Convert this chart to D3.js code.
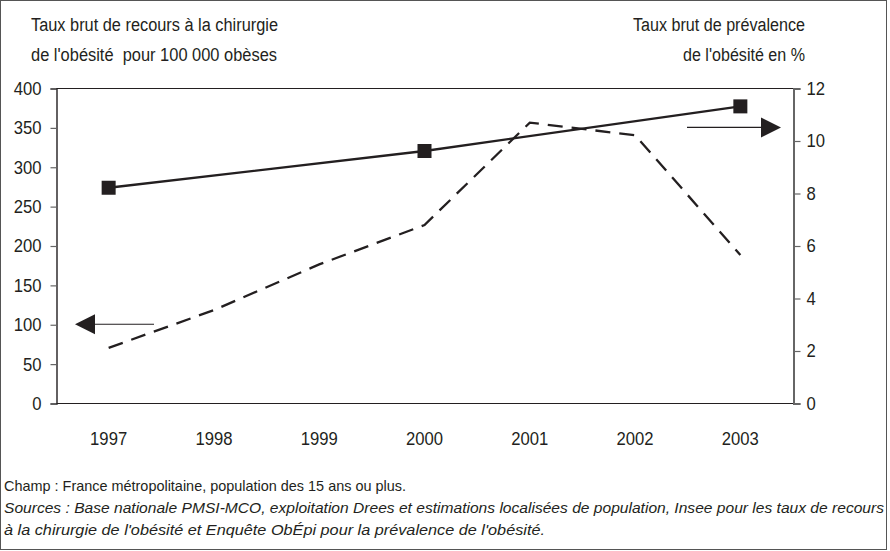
<!DOCTYPE html>
<html>
<head>
<meta charset="utf-8">
<script src="https://cdn.jsdelivr.net/npm/d3@7"></script>
<style>
  html, body { margin: 0; padding: 0; background: #fff; }
  svg { display: block; }
  text { font-family: "Liberation Sans Narrow", "Arial Narrow", "Liberation Sans", sans-serif; fill: #231f20; }
</style>
</head>
<body>
<svg id="chart" width="890" height="551"></svg>
<script>
// Years on the horizontal axis
const years = ["1997", "1998", "1999", "2000", "2001", "2002", "2003"];
// Taux brut de recours à la chirurgie de l'obésité (pour 100 000 obèses), left axis
const recours = [70, 118, 176, 226, 356, 340, 188];
// Taux brut de prévalence de l'obésité (%), right axis – ObÉpi survey years
const prevYears = ["1997", "2000", "2003"];
const prevalence = [8.2, 9.6, 11.3];
// Tick values
const leftTicks = [0, 50, 100, 150, 200, 250, 300, 350, 400];
const rightTicks = [0, 2, 4, 6, 8, 10, 12];

const ink = "#231f20";
const svg = d3.select("#chart");

const plot = { left: 56, right: 793, top: 88, bottom: 403 };

const x = d3.scalePoint().domain(years).range([plot.left, plot.right]).padding(0.5);
const yL = d3.scaleLinear().domain([0, 400]).range([plot.bottom, plot.top]);
const yR = d3.scaleLinear().domain([0, 12]).range([plot.bottom, plot.top]);

// Condensed text helper: fits a label to a given width
function fitText(sel, width) {
  sel.attr("textLength", width).attr("lengthAdjust", "spacingAndGlyphs");
  return sel;
}

// Outer frame
svg.append("rect")
  .attr("x", 0.5).attr("y", 0.5).attr("width", 886).attr("height", 549)
  .attr("fill", "none").attr("stroke", "#555").attr("stroke-width", 1);

// Axis titles
fitText(svg.append("text").attr("font-size", 18).attr("x", 31).attr("y", 31)
  .text("Taux brut de recours à la chirurgie"), 247);
fitText(svg.append("text").attr("font-size", 18).attr("x", 31).attr("y", 61)
  .text("de l'obésité\u00a0 pour 100 000 obèses"), 246);
fitText(svg.append("text").attr("font-size", 18).attr("x", 633).attr("y", 31)
  .text("Taux brut de prévalence"), 172);
fitText(svg.append("text").attr("font-size", 18).attr("x", 683).attr("y", 61)
  .text("de l'obésité en %"), 122);

// Plot frame: top and bottom edges
svg.append("line")
  .attr("x1", plot.left).attr("x2", plot.right).attr("y1", plot.top + 0.5).attr("y2", plot.top + 0.5)
  .attr("stroke", ink).attr("stroke-width", 1.2);
svg.append("line")
  .attr("x1", plot.left).attr("x2", plot.right).attr("y1", plot.bottom + 0.5).attr("y2", plot.bottom + 0.5)
  .attr("stroke", ink).attr("stroke-width", 1.2);

// Left axis
const gL = svg.append("g").attr("transform", `translate(${plot.left + 0.5},0.5)`)
  .call(d3.axisLeft(yL).tickValues(leftTicks).tickSize(6).tickPadding(9));
gL.select(".domain").attr("stroke", ink).attr("stroke-width", 1.4);
gL.selectAll(".tick line").attr("stroke", "#666").attr("stroke-width", 1.2);
gL.selectAll(".tick text").attr("font-size", 18.5).attr("font-family", null).attr("fill", ink)
  .each(function () { fitText(d3.select(this), this.getComputedTextLength() * 0.9); });

// Right axis
const gR = svg.append("g").attr("transform", `translate(${plot.right + 0.5},0.5)`)
  .call(d3.axisRight(yR).tickValues(rightTicks).tickSize(7).tickPadding(6));
gR.select(".domain").attr("stroke", "#666").attr("stroke-width", 2);
gR.selectAll(".tick line").attr("stroke", "#666").attr("stroke-width", 1.2);
gR.selectAll(".tick text").attr("font-size", 18.5).attr("font-family", null).attr("fill", ink)
  .each(function () { fitText(d3.select(this), this.getComputedTextLength() * 0.9); });

// Year labels
svg.append("g").selectAll("text").data(years).join("text")
  .attr("x", d => x(d)).attr("y", 445)
  .attr("text-anchor", "middle").attr("font-size", 18.5)
  .text(d => d)
  .each(function () { fitText(d3.select(this), this.getComputedTextLength() * 0.9); });

// Dashed series: recours à la chirurgie
const lineL = d3.line().x((d, i) => x(years[i])).y(d => yL(d));
svg.append("path")
  .datum(recours)
  .attr("d", lineL)
  .attr("fill", "none").attr("stroke", ink).attr("stroke-width", 2.3)
  .attr("stroke-dasharray", "15,9");

// Solid series: prévalence with square markers
const lineR = d3.line().x((d, i) => x(prevYears[i])).y(d => yR(d));
svg.append("path")
  .datum(prevalence)
  .attr("d", lineR)
  .attr("fill", "none").attr("stroke", ink).attr("stroke-width", 2.3);
const ms = 14;
svg.append("g").selectAll("rect").data(prevalence).join("rect")
  .attr("x", (d, i) => x(prevYears[i]) - ms / 2)
  .attr("y", d => yR(d) - ms / 2)
  .attr("width", ms).attr("height", ms)
  .attr("fill", ink);

// Arrows pointing each series to its axis
function arrow(x1, x2, y, dir) {
  // x1: tail end, x2: tip; dir = -1 points left, +1 points right
  const head = 20, half = 10;
  svg.append("line")
    .attr("x1", x1).attr("x2", x2 - dir * head).attr("y1", y).attr("y2", y)
    .attr("stroke", ink).attr("stroke-width", 1.2);
  svg.append("path")
    .attr("d", `M${x2},${y} L${x2 - dir * head},${y - half} L${x2 - dir * head},${y + half} Z`)
    .attr("fill", ink);
}
arrow(154, 75, yL(100), -1);
arrow(687, 781, yR(10.5), 1);

// Footnotes
fitText(svg.append("text").attr("x", 4).attr("y", 491).attr("font-size", 15)
  .text("Champ : France métropolitaine, population des 15 ans ou plus."), 402);
fitText(svg.append("text").attr("x", 4).attr("y", 513).attr("font-size", 15).attr("font-style", "italic")
  .text("Sources : Base nationale PMSI-MCO, exploitation Drees et estimations localisées de population, Insee pour les taux de recours"), 880);
fitText(svg.append("text").attr("x", 4).attr("y", 535).attr("font-size", 15).attr("font-style", "italic")
  .text("à la chirurgie de l'obésité et Enquête ObÉpi pour la prévalence de l'obésité."), 541);
</script>
</body>
</html>
